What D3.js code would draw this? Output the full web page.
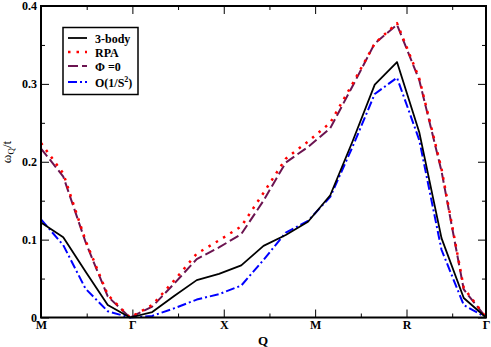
<!doctype html>
<html>
  <head>
    <meta charset='utf-8'>
    <script src='https://d3js.org/d3.v7.min.js'></script>
    <style>
      body { margin: 0; background: #fff; }
      text { font-family: 'Liberation Serif', 'DejaVu Serif', serif; }
    </style>
  </head>
  <body>
    <svg width='491' height='347'></svg>
    <script>
      // points along the path M-Γ-X-M-R-Γ
      var qIndex = d3.range(21);
      var qLabels = ['M', 'Γ', 'X', 'M', 'R', 'Γ'];
      var qLabelPos = [0, 1, 2, 3, 4, 4.87];

      var threeBody = [0.122, 0.103, 0.059, 0.016, 0, 0.007, 0.028, 0.048, 0.056, 0.067, 0.092,
                       0.106, 0.123, 0.157, 0.226, 0.299, 0.328, 0.238, 0.102, 0.025, 0];
      var rpa = [0.224, 0.185, 0.099, 0.029, 0, 0.016, 0.048, 0.082, 0.099, 0.117, 0.160,
                 0.204, 0.226, 0.250, 0.300, 0.352, 0.378, 0.307, 0.191, 0.038, 0];
      var phiZero = [0.217, 0.181, 0.097, 0.027, 0, 0.014, 0.044, 0.075, 0.090, 0.107, 0.150,
                     0.199, 0.219, 0.243, 0.297, 0.352, 0.376, 0.305, 0.188, 0.036, 0];
      var oneOverS2 = [0.126, 0.093, 0.037, 0.008, 0, 0.002, 0.012, 0.023, 0.030, 0.041, 0.074,
                       0.109, 0.124, 0.155, 0.219, 0.287, 0.308, 0.228, 0.087, 0.016, 0];

      var yMajor = [0, 0.1, 0.2, 0.3, 0.4];
      var yMinor = [0.05, 0.15, 0.25, 0.35];

      var svg = d3.select('svg'),
          margin = {top: 6, right: 5, bottom: 29.5, left: 41},
          width = +svg.attr('width') - margin.left - margin.right,
          height = +svg.attr('height') - margin.top - margin.bottom,
          g = svg.append('g').attr('transform', 'translate(' + margin.left + ',' + margin.top + ')');

      var x = d3.scaleLinear().domain([0, 4.87]).range([0, width]);
      var xi = d3.scaleLinear().domain([0, 20]).range([0, width]);
      var y = d3.scaleLinear().domain([0, 0.4]).range([height, 0]);

      function style(sel) {
        sel.select('.domain').remove();
        sel.selectAll('line').attr('stroke', '#000').attr('stroke-width', 1);
        sel.selectAll('text')
          .attr('font-family', "'Liberation Serif', serif")
          .attr('font-weight', 'bold')
          .attr('font-size', 12)
          .attr('fill', '#000');
      }

      // bottom axis with labels
      g.append('g')
        .attr('transform', 'translate(0,' + height + ')')
        .call(d3.axisBottom(x).tickValues(qLabelPos).tickSize(-8).tickPadding(3)
          .tickFormat(function(d, i) { return qLabels[i]; }))
        .call(style);
      g.append('g')
        .attr('transform', 'translate(0,' + height + ')')
        .call(d3.axisBottom(x).tickValues([0.5, 1.5, 2.5, 3.5, 4.5]).tickSize(-4).tickFormat(''))
        .call(style);
      g.append('g')
        .call(d3.axisTop(x).tickValues([1, 2, 3, 4]).tickSize(-8).tickFormat(''))
        .call(style);
      g.append('g')
        .call(d3.axisTop(x).tickValues([0.5, 1.5, 2.5, 3.5, 4.5]).tickSize(-4).tickFormat(''))
        .call(style);

      // y axes
      g.append('g')
        .call(d3.axisLeft(y).tickValues(yMajor).tickSize(-8).tickPadding(4)
          .tickFormat(function(d) { return d === 0 ? '0' : d.toFixed(1); }))
        .call(style);
      g.append('g')
        .call(d3.axisLeft(y).tickValues(yMinor).tickSize(-4).tickFormat(''))
        .call(style);
      g.append('g')
        .attr('transform', 'translate(' + width + ',0)')
        .call(d3.axisRight(y).tickValues(yMajor).tickSize(-8).tickFormat(''))
        .call(style);
      g.append('g')
        .attr('transform', 'translate(' + width + ',0)')
        .call(d3.axisRight(y).tickValues(yMinor).tickSize(-4).tickFormat(''))
        .call(style);

      var series = [
        {name: '3-body', values: threeBody, color: '#000000', dash: null, w: 1.8},
        {name: 'RPA', values: rpa, color: '#ff0000', dash: '2.5,6', w: 2.5},
        {name: 'Φ =0', values: phiZero, color: '#6b1450', dash: '10,4', w: 2},
        {name: 'O(1/S2)', values: oneOverS2, color: '#0000ff', dash: '9,3,2,3', w: 2}
      ];

      var line = d3.line()
        .x(function(d, i) { return xi(qIndex[i]); })
        .y(function(d) { return y(d); });

      // draw in reverse so 3-body sits on top
      g.selectAll('.series')
        .data(series.slice().reverse())
        .enter().append('path')
        .attr('class', 'series')
        .attr('fill', 'none')
        .attr('stroke', function(d) { return d.color; })
        .attr('stroke-width', function(d) { return d.w; })
        .attr('stroke-dasharray', function(d) { return d.dash; })
        .attr('stroke-linejoin', 'round')
        .attr('d', function(d) { return line(d.values); });

      // frame
      g.append('rect')
        .attr('width', width)
        .attr('height', height)
        .attr('fill', 'none')
        .attr('stroke', '#000')
        .attr('stroke-width', 2);

      // axis titles
      svg.append('text')
        .attr('x', 263)
        .attr('y', 345)
        .attr('text-anchor', 'middle')
        .attr('font-weight', 'bold')
        .attr('font-size', 13)
        .text('Q');

      var yl = svg.append('text')
        .attr('transform', 'translate(11,152) rotate(-90)')
        .attr('text-anchor', 'middle')
        .attr('font-size', 13);
      yl.append('tspan').text('ω');
      yl.append('tspan').attr('font-size', 9).attr('dy', 3).text('Q');
      yl.append('tspan').attr('dy', -3).text('/t');

      // legend
      var lg = svg.append('g');
      lg.append('rect')
        .attr('x', 63).attr('y', 27.5)
        .attr('width', 75).attr('height', 67)
        .attr('fill', '#fff')
        .attr('stroke', '#000')
        .attr('stroke-width', 1.5);

      var item = lg.selectAll('.item')
        .data(series)
        .enter().append('g')
        .attr('class', 'item')
        .attr('transform', function(d, i) { return 'translate(0,' + [38, 52, 66, 82][i] + ')'; });

      item.append('line')
        .attr('x1', 68).attr('x2', 87)
        .attr('stroke', function(d) { return d.color; })
        .attr('stroke-width', function(d) { return d.w; })
        .attr('stroke-dasharray', function(d) { return d.dash; });

      item.append('text')
        .attr('x', 95)
        .attr('y', 4.5)
        .attr('font-weight', 'bold')
        .attr('font-size', 12)
        .each(function(d) {
          var t = d3.select(this);
          if (d.name === 'O(1/S2)') {
            t.append('tspan').text('O(1/S');
            t.append('tspan').attr('font-size', 8).attr('dy', -5).text('2');
            t.append('tspan').attr('dy', 5).text(')');
          } else {
            t.text(d.name);
          }
        });
    </script>
  </body>
</html>
